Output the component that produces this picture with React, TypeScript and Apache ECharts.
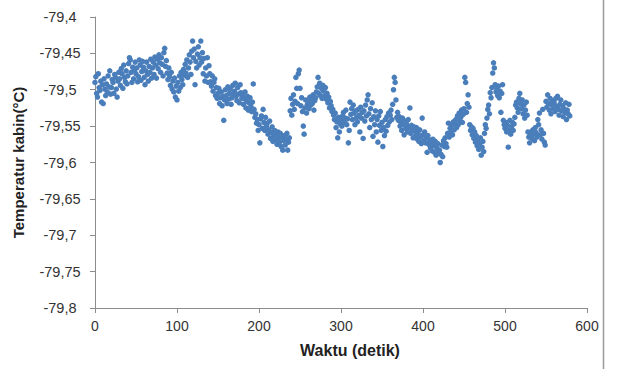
import React, { useEffect, useRef } from "react";
import * as echarts from "echarts";

// Cabin temperature (°C), one reading per second
const temps000: number[] = [
  -79.49, -79.482, -79.505, -79.51, -79.478, -79.497, -79.501, -79.488, -79.517, -79.493,
  -79.519, -79.485, -79.499, -79.508, -79.492, -79.503, -79.481, -79.496, -79.474, -79.506,
  -79.497, -79.486, -79.49, -79.505, -79.479, -79.483, -79.499, -79.51, -79.488, -79.476,
  -79.485, -79.494, -79.471, -79.478, -79.498, -79.466, -79.483, -79.489, -79.474, -79.492,
  -79.481, -79.464, -79.456, -79.459, -79.476, -79.49, -79.469, -79.485, -79.473, -79.462,
  -79.478, -79.47, -79.489, -79.482, -79.459, -79.466, -79.487, -79.475, -79.461, -79.469,
  -79.483, -79.493, -79.474, -79.462, -79.479, -79.488, -79.468, -79.476, -79.458, -79.484,
  -79.47, -79.462, -79.479, -79.455, -79.466, -79.484, -79.458, -79.471, -79.452, -79.463,
  -79.476, -79.456, -79.465, -79.481, -79.449, -79.443, -79.468, -79.46, -79.477, -79.486,
  -79.47, -79.482, -79.494, -79.476, -79.499, -79.488, -79.503, -79.484, -79.51, -79.495,
];
const temps100: number[] = [
  -79.514, -79.49, -79.502, -79.481, -79.497, -79.476, -79.486, -79.493, -79.472, -79.48,
  -79.465, -79.477, -79.459, -79.483, -79.47, -79.452, -79.462, -79.479, -79.447, -79.433,
  -79.456, -79.444, -79.493, -79.461, -79.47, -79.451, -79.441, -79.466, -79.456, -79.433,
  -79.462, -79.449, -79.478, -79.457, -79.488, -79.47, -79.481, -79.456, -79.49, -79.467,
  -79.478, -79.489, -79.495, -79.481, -79.502, -79.49, -79.485, -79.508, -79.497, -79.512,
  -79.505, -79.498, -79.519, -79.511, -79.503, -79.522, -79.509, -79.542, -79.514, -79.5,
  -79.508, -79.519, -79.496, -79.513, -79.505, -79.499, -79.52, -79.511, -79.494, -79.506,
  -79.502, -79.491, -79.509, -79.515, -79.497, -79.506, -79.518, -79.493, -79.504, -79.512,
  -79.507, -79.52, -79.512, -79.503, -79.525, -79.516, -79.509, -79.528, -79.518, -79.511,
  -79.523, -79.53, -79.517, -79.492, -79.527, -79.538, -79.533, -79.546, -79.541, -79.556,
];
const temps200: number[] = [
  -79.548, -79.573, -79.54, -79.536, -79.553, -79.527, -79.545, -79.556, -79.538, -79.55,
  -79.546, -79.561, -79.555, -79.543, -79.567, -79.559, -79.551, -79.571, -79.563, -79.556,
  -79.569, -79.562, -79.575, -79.558, -79.566, -79.572, -79.56, -79.578, -79.565, -79.583,
  -79.57, -79.563, -79.576, -79.568, -79.56, -79.583, -79.572, -79.566, -79.529, -79.512,
  -79.535, -79.52, -79.507, -79.527, -79.516, -79.483, -79.498, -79.519, -79.478, -79.473,
  -79.498, -79.522, -79.511, -79.53, -79.55, -79.561, -79.525, -79.514, -79.532, -79.52,
  -79.517, -79.526, -79.51, -79.521, -79.513, -79.519, -79.507, -79.528, -79.515, -79.511,
  -79.503, -79.496, -79.483, -79.505, -79.491, -79.508, -79.498, -79.512, -79.494, -79.502,
  -79.509, -79.497, -79.513, -79.505, -79.518, -79.51, -79.525, -79.516, -79.522, -79.53,
  -79.527, -79.535, -79.541, -79.532, -79.552, -79.544, -79.566, -79.538, -79.558, -79.547,
];
const temps300: number[] = [
  -79.542, -79.55, -79.536, -79.531, -79.545, -79.539, -79.528, -79.548, -79.54, -79.573,
  -79.556, -79.517, -79.534, -79.526, -79.541, -79.521, -79.532, -79.548, -79.529, -79.538,
  -79.544, -79.527, -79.535, -79.558, -79.524, -79.539, -79.531, -79.567, -79.529, -79.543,
  -79.521, -79.536, -79.514, -79.507, -79.533, -79.552, -79.526, -79.541, -79.518, -79.564,
  -79.537, -79.548, -79.529, -79.558, -79.541, -79.572, -79.536, -79.549, -79.53, -79.556,
  -79.545, -79.578, -79.552, -79.563, -79.541, -79.557, -79.537, -79.549, -79.532, -79.544,
  -79.535, -79.528, -79.541, -79.52, -79.5, -79.483, -79.49, -79.514, -79.538, -79.531,
  -79.542, -79.537, -79.55, -79.545, -79.556, -79.539, -79.548, -79.562, -79.543, -79.553,
  -79.547, -79.558, -79.541, -79.552, -79.525, -79.56, -79.549, -79.555, -79.566, -79.551,
  -79.557, -79.563, -79.552, -79.568, -79.56, -79.571, -79.555, -79.565, -79.574, -79.539,
];
const temps400: number[] = [
  -79.562, -79.57, -79.558, -79.573, -79.566, -79.586, -79.563, -79.575, -79.569, -79.58,
  -79.572, -79.584, -79.568, -79.577, -79.586, -79.571, -79.59, -79.58, -79.574, -79.585,
  -79.583, -79.6, -79.589, -79.576, -79.592, -79.57, -79.578, -79.566, -79.574, -79.579,
  -79.56, -79.546, -79.565, -79.553, -79.558, -79.549, -79.562, -79.544, -79.555, -79.547,
  -79.541, -79.552, -79.536, -79.548, -79.532, -79.543, -79.538, -79.528, -79.545, -79.534,
  -79.526, -79.483, -79.49, -79.531, -79.519, -79.507, -79.524, -79.548, -79.556, -79.551,
  -79.562, -79.553, -79.567, -79.558, -79.572, -79.563, -79.577, -79.568, -79.582, -79.574,
  -79.566, -79.59, -79.579, -79.571, -79.585, -79.56, -79.548, -79.553, -79.539, -79.527,
  -79.521, -79.533, -79.504, -79.511, -79.497, -79.477, -79.463, -79.47, -79.493, -79.503,
  -79.498, -79.508, -79.495, -79.511, -79.502, -79.531, -79.505, -79.493, -79.542, -79.548,
];
const temps500: number[] = [
  -79.553, -79.545, -79.558, -79.549, -79.579, -79.556, -79.542, -79.561, -79.551, -79.545,
  -79.556, -79.547, -79.538, -79.521, -79.517, -79.525, -79.531, -79.512, -79.505, -79.519,
  -79.526, -79.514, -79.533, -79.521, -79.539, -79.528, -79.517, -79.535, -79.558, -79.565,
  -79.573, -79.562, -79.558, -79.567, -79.555, -79.561, -79.57, -79.552, -79.559, -79.565,
  -79.541, -79.548, -79.532, -79.562, -79.555, -79.568, -79.527, -79.56, -79.572, -79.576,
  -79.516, -79.524, -79.507, -79.519, -79.528, -79.512, -79.533, -79.521, -79.515, -79.526,
  -79.518, -79.53, -79.512, -79.523, -79.509, -79.527, -79.535, -79.52, -79.514, -79.529,
  -79.522, -79.537, -79.526, -79.531, -79.518, -79.541, -79.528, -79.533, -79.52, -79.536,
];

const temps: number[] = [
  ...temps000, ...temps100, ...temps200, ...temps300, ...temps400, ...temps500,
];
// sample times in seconds (one sample per second starting at 0)
const times: number[] = temps.map((_, i) => i);

const xMin = 0;
const xMax = 600;
const xStep = 100;
const yMin = -79.8;
const yMax = -79.4;
const yStep = 0.05;

const xTitle = "Waktu (detik)";
const yTitle = "Temperatur kabin(°C)";

const FONT = "'Liberation Sans', Arial, sans-serif";
const AXIS_COLOR = "#8c8c8c";

export default function App() {
  const ref = useRef<HTMLDivElement>(null);

  useEffect(() => {
    if (!ref.current) return;
    const chart = echarts.init(ref.current, undefined, { renderer: "svg" });
    const data = temps.map((v, i) => [times[i], v]);
    chart.setOption({
      animation: false,
      backgroundColor: "#ffffff",
      textStyle: { fontFamily: FONT },
      grid: { left: 95, right: 32, top: 17, bottom: 61, containLabel: false },
      xAxis: {
        type: "value",
        min: xMin,
        max: xMax,
        interval: xStep,
        name: xTitle,
        nameLocation: "middle",
        nameGap: 34,
        nameTextStyle: {
          fontFamily: FONT,
          fontSize: 16,
          fontWeight: "bold",
          color: "#222",
          padding: [0, 0, 0, 18],
        },
        axisLine: { show: true, lineStyle: { color: AXIS_COLOR, width: 1 } },
        axisTick: { show: true, inside: false, length: 5, lineStyle: { color: AXIS_COLOR } },
        axisLabel: { fontFamily: FONT, fontSize: 14, color: "#333", margin: 11 },
        splitLine: { show: false },
      },
      yAxis: {
        type: "value",
        min: yMin,
        max: yMax,
        interval: yStep,
        name: yTitle,
        nameLocation: "middle",
        nameGap: 69,
        nameTextStyle: {
          fontFamily: FONT,
          fontSize: 15,
          fontWeight: "bold",
          color: "#222",
        },
        axisLine: { show: true, lineStyle: { color: AXIS_COLOR, width: 1 } },
        axisTick: { show: true, inside: false, length: 5, lineStyle: { color: AXIS_COLOR } },
        axisLabel: {
          fontFamily: FONT,
          fontSize: 14.5,
          color: "#333",
          margin: 35,
          align: "center",
          formatter: (v: number) =>
            (Math.round(v * 100) / 100).toString().replace(".", ","),
        },
        splitLine: { show: false },
      },
      series: [
        {
          type: "scatter",
          data,
          symbol: "circle",
          symbolSize: 5.5,
          itemStyle: { color: "#4A7EBB", opacity: 1 },
        },
      ],
      graphic: [
        {
          type: "line",
          shape: { x1: 603.5, y1: 0, x2: 603.5, y2: 369 },
          style: { stroke: "#9a9a9a", lineWidth: 1.5 },
          silent: true,
        },
      ],
    });
    return () => chart.dispose();
  }, []);

  return (
    <div
      ref={ref}
      style={{ position: "fixed", left: 0, top: 0, width: 619, height: 369, background: "#fff" }}
    />
  );
}
